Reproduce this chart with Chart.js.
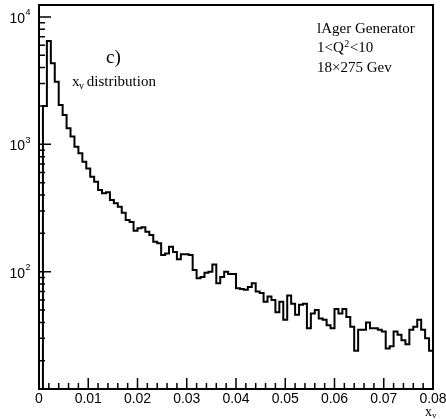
<!DOCTYPE html>
<html>
<head>
<meta charset="utf-8">
<script src="https://cdn.jsdelivr.net/npm/chart.js@4.4.0/dist/chart.umd.min.js"></script>
<style>
  html, body { margin: 0; padding: 0; background: #fff; }
</style>
</head>
<body>
<canvas id="myChart" width="446" height="419"></canvas>
<script>
// x_v histogram, 100 bins from 0 to 0.08
const binCounts = [
  0, 2000, 6470, 4330, 3100, 2035, 1700, 1335, 1150, 957,
  849, 730, 647, 557, 508, 438, 412, 420, 365, 344,
  324, 290, 254, 246, 210, 219, 223, 206, 194, 172,
  167, 135, 139, 157, 143, 125, 137, 137, 135, 103,
  89, 91, 98, 100, 114, 81, 91, 100, 96, 96,
  74, 73, 72, 76, 81, 70, 68, 58, 64, 60,
  48, 58, 42, 65, 56, 46, 55, 56, 36, 47,
  50, 43, 42, 38, 36, 51, 47, 51, 44, 37,
  24, 35, 35, 40, 36, 36, 35, 34, 25, 26,
  34, 32, 29, 27, 35, 37, 42, 35, 30, 24,
];
const xMin = 0;
const xMax = 0.08;
const yMin = 12;
const yMax = 12400;

const xTickLabels = ["0", "0.01", "0.02", "0.03", "0.04", "0.05", "0.06", "0.07", "0.08"];
const yDecades = [2, 3, 4];

// step outline: one point per left bin edge plus the closing right edge
const binWidth = (xMax - xMin) / binCounts.length;
const points = binCounts.map((c, i) => ({ x: xMin + i * binWidth, y: c > 0 ? c : yMin }));
points.push({ x: xMax, y: binCounts[binCounts.length - 1] });

// ROOT-like frame with inward ticks and labels
const rootFrame = {
  id: "rootFrame",
  afterDraw(chart) {
    const { ctx, chartArea: a } = chart;
    const xs = chart.scales.x;
    const ys = chart.scales.y;
    ctx.save();
    ctx.strokeStyle = "#000";
    ctx.fillStyle = "#000";

    // x ticks (minor every 0.002)
    ctx.lineWidth = 1.5;
    ctx.beginPath();
    const majorX = xTickLabels.map(parseFloat);
    const step = (majorX[1] - majorX[0]) / 5;
    for (let i = 0; i <= (majorX.length - 1) * 5; i++) {
      const px = xs.getPixelForValue(majorX[0] + i * step);
      const len = i % 5 === 0 ? 11 : 6;
      ctx.moveTo(px, a.bottom);
      ctx.lineTo(px, a.bottom - len);
    }
    // y ticks, log scale 1..9 per decade
    for (let d = yDecades[0] - 1; d <= yDecades[yDecades.length - 1]; d++) {
      for (let m = 1; m <= 9; m++) {
        const v = m * Math.pow(10, d);
        if (v < yMin || v > yMax) continue;
        const py = ys.getPixelForValue(v);
        const len = m === 1 ? 12 : 6;
        ctx.moveTo(a.left, py);
        ctx.lineTo(a.left + len, py);
      }
    }
    ctx.stroke();

    ctx.lineWidth = 2;
    ctx.strokeRect(a.left, a.top, a.right - a.left, a.bottom - a.top);

    // x labels
    ctx.font = '14px "Liberation Sans", Arial, sans-serif';
    ctx.textAlign = "center";
    ctx.textBaseline = "middle";
    xTickLabels.forEach((lab) => {
      ctx.fillText(lab, xs.getPixelForValue(parseFloat(lab)), 399);
    });

    // y labels 10^n
    yDecades.forEach((d) => {
      const py = ys.getPixelForValue(Math.pow(10, d));
      ctx.font = '14px "Liberation Sans", Arial, sans-serif';
      ctx.textAlign = "right";
      ctx.fillText("10", 25, py + 2);
      ctx.font = '9px "Liberation Sans", Arial, sans-serif';
      ctx.textAlign = "left";
      ctx.fillText(String(d), 25.5, py - 4);
    });

    // annotations
    const serif = (px) => px + 'px "Liberation Serif", "Times New Roman", serif';
    ctx.textAlign = "left";
    ctx.font = serif(19);
    ctx.fillText("c)", 106, 58);

    ctx.font = serif(15);
    ctx.fillText("x", 72, 82);
    ctx.font = serif(10);
    ctx.fillText("v", 79, 86);
    ctx.font = serif(15);
    ctx.fillText(" distribution", 83, 82);

    ctx.fillText("lAger Generator", 317, 29);
    let tx = 317;
    ctx.fillText("1<Q", tx, 48);
    tx += ctx.measureText("1<Q").width;
    ctx.font = serif(10);
    ctx.fillText("2", tx + 0.5, 44);
    tx += ctx.measureText("2").width + 1;
    ctx.font = serif(15);
    ctx.fillText("<10", tx, 48);
    ctx.fillText("18\u00d7275 Gev", 317, 68);

    // axis title
    ctx.font = serif(14);
    ctx.fillText("x", 425, 412);
    ctx.font = serif(9);
    ctx.fillText("v", 432, 416);
    ctx.restore();
  },
};

const config = {
  type: "line",
  data: {
    datasets: [
      {
        label: "x_v",
        data: points,
        stepped: "before",
        borderColor: "#000",
        borderWidth: 2,
        pointRadius: 0,
        fill: false,
      },
    ],
  },
  options: {
    responsive: false,
    animation: false,
    devicePixelRatio: 1,
    layout: {
      padding: { left: 39, right: 13, top: 5, bottom: 30 },
    },
    scales: {
      x: { type: "linear", min: xMin, max: xMax, display: false },
      y: { type: "logarithmic", min: yMin, max: yMax, display: false },
    },
    plugins: {
      legend: { display: false },
      tooltip: { enabled: false },
    },
  },
  plugins: [rootFrame],
};

const myChart = new Chart(document.getElementById("myChart"), config);
</script>
</body>
</html>
